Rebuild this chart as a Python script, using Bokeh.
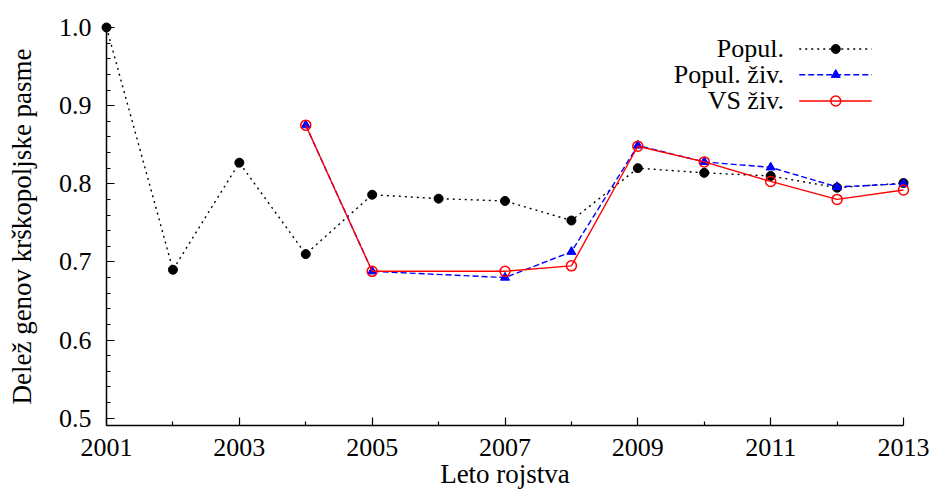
from bokeh.plotting import figure
from bokeh.models import FixedTicker, Label, Range1d, PrintfTickFormatter
from bokeh.embed import file_html
from bokeh.resources import INLINE

# Birth years and share of Krškopolje genes
years = [2001, 2002, 2003, 2004, 2005, 2006, 2007, 2008, 2009, 2010, 2011, 2012, 2013]
popul = [1.000, 0.690, 0.827, 0.710, 0.786, 0.781, 0.778, 0.753, 0.820, 0.814, 0.810, 0.795, 0.801]

ziv_years = [2004, 2005, 2007, 2008, 2009, 2010, 2011, 2012, 2013]
popul_ziv = [0.875, 0.688, 0.680, 0.713, 0.849, 0.828, 0.821, 0.796, 0.800]
vs_ziv = [0.875, 0.688, 0.688, 0.695, 0.848, 0.828, 0.803, 0.780, 0.792]

series_names = ["Popul.", "Popul. živ.", "VS živ."]
x_major = [2001, 2003, 2005, 2007, 2009, 2011, 2013]
x_minor = [2002, 2004, 2006, 2008, 2010, 2012]
y_major = [0.5, 0.6, 0.7, 0.8, 0.9, 1.0]
y_minor = [round(0.5 + 0.02 * i, 2) for i in range(26)]

FONT = "Liberation Serif"
TICK_SIZE = "26px"
LABEL_SIZE = "27px"

p = figure(width=933, height=491, output_backend="svg", toolbar_location=None,
           x_range=Range1d(2001, 2013), y_range=Range1d(0.4907, 1.0),
           min_border_left=106, min_border_right=30, min_border_top=27,
           min_border_bottom=66)
p.outline_line_color = None
p.xgrid.visible = False
p.ygrid.visible = False
p.background_fill_color = "white"
p.border_fill_color = "white"

for ax in (p.xaxis[0], p.yaxis[0]):
    ax.axis_line_width = 1.5
    ax.axis_line_color = "black"
    ax.major_tick_in = 8
    ax.major_tick_out = 0
    ax.minor_tick_in = 4
    ax.minor_tick_out = 0
    ax.major_tick_line_width = 1.2
    ax.minor_tick_line_width = 1.2
    ax.major_label_text_font = FONT
    ax.major_label_text_font_size = TICK_SIZE
    ax.major_label_text_color = "black"
    ax.axis_label_text_font = FONT
    ax.axis_label_text_font_size = LABEL_SIZE
    ax.axis_label_text_font_style = "normal"
    ax.axis_label_text_color = "black"

p.xaxis.ticker = FixedTicker(ticks=x_major, minor_ticks=x_minor)
p.yaxis.ticker = FixedTicker(ticks=y_major, minor_ticks=y_minor)
p.yaxis.formatter = PrintfTickFormatter(format="%.1f")
p.xaxis.major_label_standoff = 13
p.yaxis.major_label_standoff = 15
p.xaxis.axis_label = "Leto rojstva"
p.yaxis.axis_label = "Delež genov krškopoljske pasme"
p.xaxis.axis_label_standoff = 0
p.yaxis.axis_label_standoff = 19

renderers = []
# Whole population: black dotted line with filled dots
renderers.append(p.line(years, popul, line_color="black", line_width=1.4, line_dash="2 4"))
renderers.append(p.scatter(years, popul, marker="circle", size=9, fill_color="black", line_color="black"))
# Living population: blue dashed line with filled triangles
renderers.append(p.line(ziv_years, popul_ziv, line_color="blue", line_width=1.4, line_dash="6 3"))
renderers.append(p.scatter(ziv_years, popul_ziv, marker="triangle", size=9, fill_color="blue", line_color="blue"))
# Living herd-book animals: red solid line with open circles
renderers.append(p.line(ziv_years, vs_ziv, line_color="red", line_width=1.4))
renderers.append(p.scatter(ziv_years, vs_ziv, marker="circle", size=10, fill_color=None,
                           line_color="red", line_width=1.5))

# Legend in the upper right corner: label on the left, sample on the right
leg_text_x = 2011.20
leg_x0, leg_x1, leg_xm = 2011.43, 2012.52, 2011.98
leg_rows = [0.9725, 0.9395, 0.9060]
styles = [
    dict(line=dict(line_color="black", line_width=1.4, line_dash="2 4"),
         mark=dict(marker="circle", size=9, fill_color="black", line_color="black")),
    dict(line=dict(line_color="blue", line_width=1.4, line_dash="6 3"),
         mark=dict(marker="triangle", size=9, fill_color="blue", line_color="blue")),
    dict(line=dict(line_color="red", line_width=1.4),
         mark=dict(marker="circle", size=10, fill_color=None, line_color="red", line_width=1.5)),
]
for name, yrow, st in zip(series_names, leg_rows, styles):
    renderers.append(p.line([leg_x0, leg_x1], [yrow, yrow], **st["line"]))
    renderers.append(p.scatter([leg_xm], [yrow], **st["mark"]))
    p.add_layout(Label(x=leg_text_x, y=yrow, text=name, text_align="right",
                       text_baseline="middle", text_font=FONT, text_font_size=TICK_SIZE,
                       text_color="black"))

# draw above the frame clip so markers on the axes stay whole
for r in renderers:
    r.level = "overlay"

open("out.html", "w").write(file_html(p, INLINE))
